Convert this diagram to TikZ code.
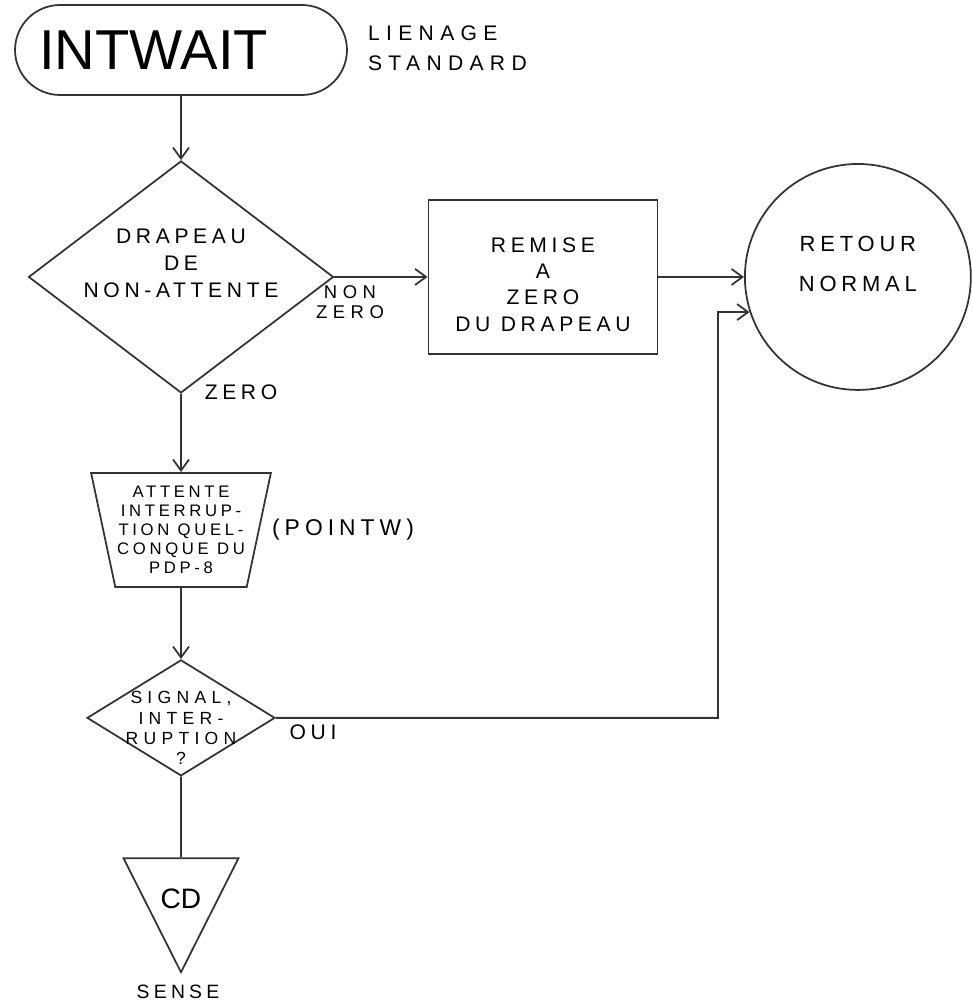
\documentclass[tikz,border=0pt]{standalone}
\usepackage{fontspec}
\setmainfont{Liberation Sans}
\newfontfamily\handfont{Liberation Sans}[LetterSpace=22]
\newfontfamily\handwide{Liberation Sans}[LetterSpace=30]
\usetikzlibrary{shapes.geometric,arrows.meta,positioning}
\begin{document}
\begin{tikzpicture}[x=0.02cm,y=-0.02cm,node distance=2.5cm,auto]
	\tikzstyle{term1} = [rectangle,rounded corners=0.9cm,line width=1pt,minimum width=6.64cm,
	minimum height=1.8cm,inner sep=2pt,draw=black!80,font=\fontsize{32}{36}\selectfont]
	\tikzstyle{dec1} = [diamond,aspect=1.31,line width=1pt,minimum width=6.1cm,minimum height=4.64cm,
	inner sep=-4mm,align=center,draw=black!80,font=\handfont\fontsize{12}{15.5}\selectfont]
	\tikzstyle{dec2} = [diamond,aspect=1.62,line width=1pt,minimum width=3.76cm,minimum height=2.32cm,
	inner sep=-5mm,align=center,draw=black!80,font=\handwide\fontsize{10}{11.4}\selectfont]
	\tikzstyle{proc1} = [rectangle,line width=1pt,minimum width=4.58cm,minimum height=3.08cm,
	inner sep=2pt,align=center,draw=black!80,font=\handfont\fontsize{12}{15}\selectfont]
	\tikzstyle{end1} = [circle,line width=1pt,minimum size=4.52cm,inner sep=-5mm,align=center,
	draw=black!80,font=\handfont\fontsize{12.5}{22.7}\selectfont]
	\tikzstyle{wait1} = [trapezium,trapezium stretches=true,shape border rotate=180,
	trapezium left angle=75,trapezium right angle=75,minimum width=3.62cm,minimum height=2.28cm,
	inner sep=0pt,line width=1pt,align=center,draw=black!80,font=\handfont\fontsize{9.5}{10.8}\selectfont]
	\tikzstyle{end2} = [isosceles triangle,isosceles triangle stretches=true,shape border rotate=-90,
	minimum width=2.3cm,minimum height=2.28cm,inner sep=0pt,line width=1pt,align=center,draw=black!80,
	font=\fontsize{16}{18}\selectfont]
	\tikzstyle{txt1} = [inner sep=1pt,font=\handfont\fontsize{12}{17}\selectfont]
	\tikzstyle{arr} = [draw=black!80,line width=1pt,-{Straight Barb[length=2.2mm,width=3.2mm]}]
	\tikzstyle{line1} = [draw=black!80,line width=1pt]

	\useasboundingbox (0,0) rectangle (971,1006);

	\node (node1) [term1] at (181,50) {INTWAIT\hspace*{1.1cm}};
	\node (node2) [dec1, below of=node1,node distance=4.54cm] {DRAPEAU\\DE\\NON-ATTENTE\\\mbox{}};
	\node (node3) [proc1, right of=node2,node distance=7.24cm] {\mbox{}\\[2pt]REMISE\\A\\ZERO\\DU DRAPEAU};
	\node (node4) [end1, right of=node3,node distance=6.3cm] {RETOUR\\NORMAL\\[-8pt]\mbox{}};
	\node (node5) [wait1, below of=node2,node distance=5.06cm] {ATTENTE\\INTERRUP-\\TION QUEL-\\CONQUE DU\\PDP-8};
	\node (node6) [dec2, below of=node5,node distance=3.76cm] {\mbox{}\\[7pt]SIGNAL,\\INTER-\\RUPTION\\?};
	\node (node7) [end2, below of=node6,node distance=3.42cm] {\mbox{}\\[5pt]CD};

	% textes libres
	\node (lab1) [txt1, anchor=west, align=left, font=\handwide\fontsize{12}{17}\selectfont] at (366,48) {LIENAGE\\STANDARD};
	\node (lab2) [txt1, align=center, font=\handwide\fontsize{10.5}{11.4}\selectfont] at (350,302) {NON\\ZERO};
	\node (lab3) [txt1] at (241,392) {ZERO};
	\node (lab4) [txt1, font=\handfont\fontsize{13}{15}\selectfont] at (343,530) {(POINTW)};
	\node (lab5) [txt1] at (313,732) {OUI};
	\node (lab6) [txt1, font=\handfont\fontsize{11}{13}\selectfont] at (178,992) {SENSE};

	\coordinate (bend1) at (718,312);

	\draw[arr] (node1) -- (node2);
	\draw[arr] (node2) -- (node3);
	\draw[arr] (node3) -- (node4);
	\draw[arr] (node2) -- (node5);
	\draw[arr] (node5) -- (node6);
	\draw[line1] (node6) -- (node7);
	\draw[arr] (node6.east) -| (bend1) -- (node4.198);
\end{tikzpicture}
\end{document}
